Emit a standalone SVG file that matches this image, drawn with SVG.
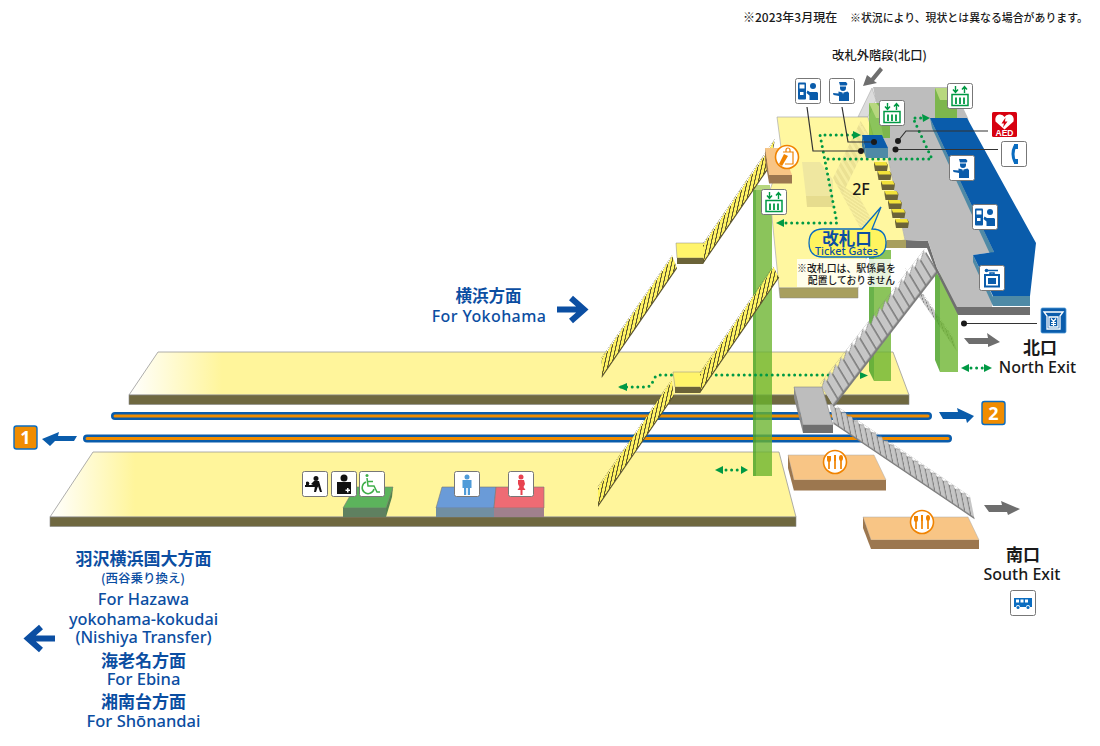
<svg xmlns="http://www.w3.org/2000/svg" width="1100" height="746" viewBox="0 0 1100 746">
<style>
text{font-family:"Noto Sans","Noto Sans CJK JP",sans-serif;text-anchor:middle;font-weight:500}
.j{font-family:"Noto Sans CJK JP",sans-serif}
.b{fill:#0b4ea2}
text.bold{font-weight:700}
.k{fill:#1a1a1a}
.dot{fill:none;stroke:#009944;stroke-width:3;stroke-linecap:round;stroke-dasharray:0 5.6}
.tri{fill:#009944}
.lead{fill:none;stroke:#333;stroke-width:1.2}
.pin{fill:#1a1a1a}
.side{fill:#6f6840;stroke:#888;stroke-width:.6}
.frame{fill:#fff;stroke:#777;stroke-width:1}
.col{fill:#6ab42d;fill-opacity:.78}
.colf{fill:#4fa52a;fill-opacity:.85}
.cap{fill:#b7d77e}
.trk1{fill:none;stroke:#0a5cab;stroke-width:8;stroke-linecap:round}
.trk2{fill:none;stroke:#f08c00;stroke-width:3;stroke-linecap:round}
.gar{fill:#6e6e6e}
</style>
<defs>
<linearGradient id="gu" gradientUnits="userSpaceOnUse" x1="129" y1="0" x2="222" y2="0"><stop offset="0" stop-color="#fff"/><stop offset="1" stop-color="#fff59b"/></linearGradient>
<linearGradient id="gl" gradientUnits="userSpaceOnUse" x1="50" y1="0" x2="135" y2="0"><stop offset="0" stop-color="#fff"/><stop offset="1" stop-color="#fff59b"/></linearGradient>
<pattern id="sy" patternUnits="userSpaceOnUse" width="10" height="100">
<polygon points="0,3 8,0 8,4 10,3 10,100 0,100" fill="#5f5830"/>
<polygon points="1,3 8,.5 8,27 1,27" fill="#fff362"/>
</pattern>
<pattern id="sg" patternUnits="userSpaceOnUse" width="10" height="100">
<polygon points="0,3 8,0 8,3 10,3 10,100 0,100" fill="#7d7d7d"/>
<polygon points="0,3.500 7,1 7,21 0,21" fill="#c6c6c6"/>
<polygon points="7,1 8,.6 8,21 7,21" fill="#e2e2e2"/>
</pattern>
<pattern id="sf" patternUnits="userSpaceOnUse" width="10" height="100">
<polygon points="0,0 6,0 6,100 0,100" fill="#e6dc90"/>
<polygon points="6,0 10,0 10,100 6,100" fill="#f3eaa0"/>
</pattern>
<g id="i-frame"><rect class="frame" x=".5" y=".5" width="25" height="25" rx="2"/></g>
<g id="i-staff"><use href="#i-frame"/><path fill="#0a5cab" d="M10,4h7l1.500,2-1,1.500h-6.500zM11,8.500h6v1.500a3,3 0 0 1-6,0zM9.500,13.500l4,1 .5,2 .5-2 4-1 1.500,1.500v8h-10v-5l-5.500-1-.5-2 5.500,.5z"/></g>
<g id="i-ticket"><use href="#i-frame"/><rect x="3" y="4.500" width="8" height="17" rx="1" fill="#0a5cab"/><rect x="4.500" y="6.500" width="5" height="4" fill="#fff"/><rect x="5" y="14" width="3.500" height="3" fill="#fff"/><circle cx="18" cy="8" r="3" fill="#0a5cab"/><path fill="#0a5cab" d="M12.500,12.500l2.500,1.500h7l1,1v7h-8.500v-4.500l-3-2.500z"/></g>
<g id="i-lift"><use href="#i-frame"/><path fill="none" stroke="#009944" stroke-width="1.400" d="M8.500,3v6M6,6.500l2.500,3 2.500-3M17.500,10V4M15,6.500l2.500-3 2.500,3"/><rect x="5" y="11.500" width="16" height="11" fill="none" stroke="#009944" stroke-width="1.500"/><path fill="none" stroke="#009944" stroke-width="1.800" d="M9,14.500v6.500M13,14.500v6.500M17,14.500v6.500"/></g>
<g id="i-rest"><circle r="11.500" fill="#fff" stroke="#f08300" stroke-width="1.600"/><path fill="none" stroke="#f08300" stroke-width="1.700" d="M-6,-2v9M0,-6v13M6,-2v9"/><path fill="#f08300" d="M-8,-6h4v4a2,2 0 0 1-4,0zM-1,-7h2v6h-2zM6,-7a2,3 0 0 1 0,6a2,3 0 0 1 0-6z"/></g>
<g id="gate"><polygon points="0,0 12,0 14,3 13,9 1,9 0,3" fill="#6b6338"/><polygon points="0,0 12,0 13.500,3.500 1.500,3.500" fill="#f2e23a"/></g>
</defs>

<rect width="1100" height="746" fill="#fff"/>

<g id="platform-upper"><polygon points="158,352 893,352 909,395 129,395" fill="url(#gu)" stroke="#999" stroke-width=".8"/><rect class="side" x="129" y="395" width="780" height="9.500"/></g>
<g id="tracks"><path class="trk1" d="M115,416H928M87,438.500H948"/><path class="trk2" d="M115,416H928M87,438.500H948"/></g>
<g id="platform-lower"><polygon points="93,452 779,452 796,517 50,517" fill="url(#gl)" stroke="#999" stroke-width=".8"/><rect class="side" x="50" y="517" width="746" height="9.500"/></g>

<g id="track-1"><path fill="#0a5cab" d="M42,439L59,432L58,436L77,436L74,441L55,441L50,446Z"/><rect x="14" y="426" width="23" height="23" rx="2.500" fill="#f08c00" stroke="#0a6cc0" stroke-width="1.400"/><text x="25.500" y="444" fill="#fff" font-size="18" class="bold">1</text></g>
<g id="track-2"><path fill="#0a5cab" d="M939,412L958,412L957,408L974,416L967,423L966,419L943,419Z"/><rect x="982" y="401.500" width="23" height="23" rx="2.500" fill="#f08c00" stroke="#0a6cc0" stroke-width="1.400"/><text x="993.500" y="419.500" fill="#fff" font-size="18" class="bold">2</text></g>

<g id="toilets">
<polygon points="355,487 393,487 386,508 343,508" fill="#5cb35c" stroke="#777" stroke-width=".6"/><polygon points="393,487 392,497 386,517 386,508" fill="#55824f"/><rect x="343" y="508" width="43" height="9" fill="#5f8060"/>
<polygon points="442,487 496,487 494,508 436,508" fill="#6a9bd8" stroke="#777" stroke-width=".6"/><rect x="436" y="508" width="58" height="9" fill="#718fa2"/>
<polygon points="496,487 544,487 544,508 494,508" fill="#ee6b74" stroke="#777" stroke-width=".6"/><rect x="494" y="508" width="50" height="9" fill="#a0808c"/>
</g>
<g id="icon-nursing" transform="translate(302,471)"><use href="#i-frame"/><path fill="#111" d="M3,14h13v2h-13zM14,5a2.500,2.500 0 1 1 0,5a2.500,2.500 0 0 1 0-5zM12,10h5l3,11h-2l-2-6-2,6h-2l1-6-4-2zM4,11a2,2 0 1 1 0,3z"/></g>
<g id="icon-multi" transform="translate(331,471)"><use href="#i-frame"/><circle cx="13" cy="7" r="3.500" fill="#111"/><path fill="#111" d="M6,11h14v12h-14z"/><path fill="#fff" d="M16,17h1.500v1.500h1.500v1.500h-1.500v1.500h-1.500v-1.500h-1.500v-1.500h1.500z"/></g>
<g id="icon-wheelchair" transform="translate(359,471)"><use href="#i-frame"/><circle cx="8" cy="4.500" r="1.500" fill="#3fae49"/><path fill="none" stroke="#3fae49" stroke-width="1.500" d="M8,7l1,8h6l3,6h3M9,10.500h5M7,11a6,6 0 1 0 8,7"/></g>
<g id="icon-male" transform="translate(454,471)"><use href="#i-frame"/><circle cx="13" cy="6" r="2.500" fill="#4f9bd8"/><path fill="#4f9bd8" d="M8.500,9h9v8h-1.500v7h-2.200v-7h-1.600v7h-2.200v-7h-1.500z"/></g>
<g id="icon-female" transform="translate(508,471)"><use href="#i-frame"/><circle cx="13" cy="6" r="2.500" fill="#e8424f"/><path fill="#e8424f" d="M10,9h6l1,4-1.500,3 2,3h-3v5h-2v-5h-3l2-3-1.500-3z"/></g>

<g id="restaurant-a"><polygon points="788,455 874,455 886,480 794,480" fill="#f8c585" stroke="#aaa" stroke-width=".5"/><polygon points="788,455 794,480 794,491 788,468" fill="#9c774f"/><rect x="794" y="480" width="92" height="10.500" fill="#9c774f"/><use href="#i-rest" x="835" y="462"/></g>
<g id="restaurant-b"><polygon points="863,517 968,517 979,540 871,540" fill="#f8c585" stroke="#aaa" stroke-width=".5"/><polygon points="863,517 871,540 871,549 863,528" fill="#9c774f"/><rect x="871" y="540" width="108" height="9" fill="#9c774f"/><use href="#i-rest" x="922" y="522"/></g>

<g id="stairs-south"><polygon transform="matrix(.6,.405,.2,1,829,401)" points="0,0 235,0 235,23 0,23" fill="url(#sg)"/></g>

<g id="stair-rear"><polygon transform="matrix(.5,.72,.3,1,905,268)" points="0,0 95,0 95,15 0,15" fill="url(#sg)"/></g>

<g id="columns-lower">
<polygon class="colf" points="869,250 874,250 874,381 869,371"/><rect class="col" x="874" y="250" width="17" height="131"/>
<polygon class="colf" points="935,270 940,278 940,372 935,360"/><rect class="col" x="940" y="272" width="18" height="100"/>
<rect class="colf" x="753" y="189" width="3" height="287"/><rect class="col" x="756" y="189" width="16" height="287"/>
<rect class="cap" x="753" y="185" width="17" height="5"/>
</g>

<g id="stair-1"><polygon transform="matrix(.55,-.8,-.22,1,608.300,348)" points="-12,0 116,0 137,30 0,30" fill="url(#sy)"/></g>
<g id="stair-4"><polygon transform="matrix(.55,-.8,-.22,1,604.600,477)" points="-12,0 122,0 138,30 0,30" fill="url(#sy)"/></g>
<g id="landing-upper"><polygon points="676,243 705,243 706,258 677,258" fill="#fff46b" stroke="#888" stroke-width=".5"/><polygon points="677,258 706,258 703,264 677,264" fill="#6b6338"/></g>

<g id="dots-platform"><path class="dot" d="M621,387H646Q651,387 653,381Q655,375 660,375H860"/><polygon class="tri" points="618,387 627,383 627,391"/><polygon class="tri" points="860,372 868,375.500 860,379"/><path class="dot" d="M726,470H740"/><polygon class="tri" points="715,470 723,466 723,474"/><polygon class="tri" points="748,470 741,466 741,474"/></g>
<g id="landing-lower"><polygon points="673,372 703,372 704,387 675,387" fill="#fff46b" stroke="#888" stroke-width=".5"/><polygon points="675,387 704,387 700,393 675,393" fill="#6b6338"/></g>

<g id="stairs-north"><polygon transform="matrix(.55,-.71,.6,1,820,384)" points="0,0 190,0 190,23 0,23" fill="url(#sg)"/></g>
<g id="landing-grey"><polygon points="794,387 822,387 833,425 803,425" fill="#bdbdbd" stroke="#888" stroke-width=".6"/><polygon points="794,387 803,425 803,433 794,398" fill="#8a8a8a"/><rect x="803" y="425" width="30" height="8" fill="#6f6f6f"/></g>

<g id="concourse">
<polygon points="906,240 928,241 937,268 958,307 1030,307 1030,315 958,315 937,273 927,248 906,248" fill="#6f6f6f"/>
<polygon points="873,87 953,87 968,118 994,252 973,255 993,297 992,307 957,307 937,268 928,241 905,240 888,158" fill="#bdbdbd"/>
<polygon points="858,117 872,88 876,100 868,117" fill="#dcdcdc" stroke="#aaa" stroke-width=".6"/>
</g>
<g id="floor-2f">
<polygon points="777,117 868,117 873,135 888,158 905,240 870,245 858,288 779,288 772,217 770,190 782,155" fill="#fff7a0" stroke="#aaa" stroke-width=".7"/>
<polygon points="887,240 906,240 906,248 882,248" fill="#a89f5f"/>
<polygon points="779,288 858,288 858,298 780,298" fill="#a89f5f" stroke="#888" stroke-width=".5"/>
<polygon transform="matrix(.3,-.62,.6,1,833,178)" fill="url(#sf)" points="0,0 92,0 92,16 0,16" opacity=".8"/>
<polygon transform="matrix(.3,.55,.9,.6,834,180)" fill="url(#sf)" points="0,0 90,0 90,28 0,28" opacity=".7"/>
<polygon points="802,162 820,162 833,180 833,196 806,196" fill="#efe7a0"/><polygon points="806,196 833,196 833,207 807,207" fill="#e6dc8e"/>
</g>
<g id="stubs"><rect class="col" x="869" y="103" width="21" height="35"/><polygon class="cap" points="869,103 876,103 890,118 876,118"/><rect class="col" x="935" y="88" width="22" height="35"/><polygon class="cap" points="935,88 950,88 956,100 940,100"/></g>
<g id="stair-2"><polygon transform="matrix(.55,-.8,-.22,1,709.600,234)" points="-12,0 119,0 122,30 0,30" fill="url(#sy)"/></g>
<g id="stair-3"><polygon transform="matrix(.55,-.8,-.22,1,706.600,363)" points="-12,0 121,0 144,30 0,30" fill="url(#sy)"/></g>
<g id="shop-box"><polygon points="765,148 782,148 792,175 769,175" fill="#f8c585"/><polygon points="765,148 769,175 769,183 765,160" fill="#9c774f"/><rect x="769" y="175" width="23" height="8.500" fill="#9c774f"/></g>
<g id="roof">
<polygon points="930,118 994,252 990,254 932,128" fill="#4f8aa6"/>
<polygon points="973,255 993,297 993,306 973,262" fill="#4f8aa6"/>
<rect x="993" y="296" width="37" height="10" fill="#4f8aa6"/>
<polygon points="930,118 967,118 1036,243 1030,296 993,296 973,255 994,252" fill="#0a5cab"/>
</g>
<g id="dots-2f"><path class="dot" d="M853,135H820L837,223H786"/><polygon class="tri" points="853,131 861,135 853,139"/><polygon class="tri" points="776,223 784,219 784,227"/><path class="dot" d="M828,159H932L913,118H922"/><polygon class="tri" points="922,114 930,118 923,122"/></g>
<g id="gates"><use href="#gate" x="874" y="162"/><use href="#gate" x="877.500" y="171"/><use href="#gate" x="881" y="181"/><use href="#gate" x="884.500" y="191"/><use href="#gate" x="888" y="200"/><use href="#gate" x="891.500" y="209"/><use href="#gate" x="895" y="219"/></g>
<g id="gate-box"><polygon points="862,135 882,135 888,148 865,148" fill="#0a5cab"/><polygon points="865,148 888,148 888,158 866,158" fill="#4f8aa6"/><polygon points="862,135 865,148 866,158 862,146" fill="#3f7a96"/></g>

<g id="leaders">
<path class="lead" d="M807,107L813,151H861"/><circle class="pin" cx="861" cy="151" r="3"/>
<path class="lead" d="M842,107L848,142H874"/><circle class="pin" cx="874" cy="142" r="3"/>
<path class="lead" d="M898,141L906,131H988"/><circle class="pin" cx="898" cy="141" r="3"/>
<path class="lead" d="M895.500,149.500H998"/><circle class="pin" cx="895.500" cy="149.500" r="3"/>
<path class="lead" d="M964,323.500H1037"/><circle class="pin" cx="964" cy="323.500" r="3"/>
</g>

<use id="icon-ticket-1" href="#i-ticket" x="795" y="78"/>
<use id="icon-staff-1" href="#i-staff" x="829" y="78"/>
<use id="icon-lift-1" href="#i-lift" x="879" y="100"/>
<use id="icon-lift-2" href="#i-lift" x="947" y="83"/>
<use id="icon-lift-3" href="#i-lift" x="761" y="189"/>
<use id="icon-staff-2" href="#i-staff" x="949" y="155"/>
<use id="icon-ticket-2" href="#i-ticket" x="972" y="204"/>
<g id="icon-locker" transform="translate(979,265)"><use href="#i-frame"/><rect x="6" y="10" width="14" height="11.500" fill="none" stroke="#0a5cab" stroke-width="2"/><rect x="9" y="13" width="8" height="6" fill="#0a5cab"/><path stroke="#0a5cab" stroke-width="1.500" fill="none" d="M9,5.500h10M11,10V8h4v2"/><circle cx="7.500" cy="5.500" r="1.800" fill="#0a5cab"/></g>
<g id="icon-aed" transform="translate(992,112)"><rect width="25" height="25" rx="1.500" fill="#d7000f"/><path fill="#fff" d="M12.500,17.500L3.500,9.500Q2.500,3.500 7,2.500Q11,2 12.500,5Q14,2 18,2.500Q22.500,3.500 21.500,9.500Z"/><path fill="#d7000f" d="M13.500,5.500L9.500,11.500H12L11,15.500L15.500,9.500H13Z"/><text x="12.500" y="24" font-size="8.500" class="bold" fill="#fff" style="font-family:'Liberation Sans',sans-serif">AED</text></g>
<g id="icon-phone" transform="translate(1001,141)"><use href="#i-frame"/><path fill="none" stroke="#0a6cc0" stroke-width="3" d="M14,5Q10,13 14,21"/><path fill="#0a6cc0" d="M13,3h4v5h-4zM13,18h4v5h-4z"/></g>
<g id="icon-atm" transform="translate(1041,308)"><rect width="25" height="25" rx="1.500" fill="#0a5cab" stroke="#4f9bd8" stroke-width=".8"/><path fill="none" stroke="#fff" stroke-width="1.300" d="M3,4H22L19,8V21H6V8ZM8,9H17V19H8Z"/><path fill="none" stroke="#fff" stroke-width="1.200" d="M10,10.500l2.500,3 2.500-3M12.500,13.500V18M10,14.500H15M10,16.500H15"/></g>
<g id="icon-bus" transform="translate(1010,590)"><use href="#i-frame"/><path fill="#0a6cc0" d="M4,8h18v9h-2a2,2 0 0 0-4,0h-6a2,2 0 0 0-4,0h-2z"/><path fill="#fff" d="M6,9.500h3v3h-3zM10.500,9.500h3v3h-3zM15,9.500h3v3h-3z"/><circle cx="8" cy="17.500" r="1.500" fill="#0a6cc0"/><circle cx="18" cy="17.500" r="1.500" fill="#0a6cc0"/></g>
<g id="icon-shop" transform="translate(787,157)"><circle r="11.500" fill="#fff" stroke="#f08300" stroke-width="1.600"/><path fill="none" stroke="#f08300" stroke-width="1.200" d="M-4,-5H6V7H-2M-1,-5v-2a2,2 0 0 1 4,0v2"/><path fill="#f08300" d="M-8,7L-3,-3L1,-1L-2,4L-5,9Z"/></g>

<g id="exit-arrows"><polygon class="gar" points="964,338 988,338 987,333 1000,342 988,347 988,344 969,344"/><polygon class="gar" points="984,505 1002,505 1001,501 1020,509 1008,515 1007,512 989,512"/><polygon class="gar" points="863,86 867,75 871,78 880,67 883,70 874,81 877,83"/></g>
<g id="dots-north"><path class="dot" d="M971,368H983"/><polygon class="tri" points="961,368 969,364 969,372"/><polygon class="tri" points="992,368 984,364 984,372"/></g>

<g id="bubble"><path d="M823,229H862L881,207L872,229Q886,229 886,243Q886,257 872,257H823Q809,257 809,243Q809,229 823,229Z" fill="#fff45f" stroke="#0a6cc0" stroke-width="1.300"/><text class="j b bold" x="847" y="244.500" font-size="16.500">改札口</text><text class="b" x="846.500" y="254.500" font-size="10.800" style="font-family:'Noto Sans',sans-serif">Ticket Gates</text></g>
<g id="note"><rect x="797" y="259" width="101" height="28" fill="#fff" fill-opacity=".8"/><text class="j k" x="846.500" y="271.500" font-size="9.900">※改札口は、駅係員を</text><text class="j k" x="851.500" y="284" font-size="9.800">配置しておりません</text></g>

<g id="labels">
<text class="j k" x="743" y="22" font-size="12" style="text-anchor:start">※2023年3月現在</text>
<text class="j k" x="850" y="22" font-size="10.900" style="text-anchor:start">※状況により、現状とは異なる場合があります。</text>
<text class="j k" x="879.500" y="60" font-size="12.300">改札外階段(北口)</text>
<text class="k" x="861" y="195" font-size="16">2F</text>
<text class="j k bold" x="1040" y="354" font-size="17">北口</text>
<text class="k" x="1037.500" y="373" font-size="16">North Exit</text>
<text class="j k bold" x="1023" y="561" font-size="17">南口</text>
<text class="k" x="1022" y="580" font-size="16">South Exit</text>
<text class="j b bold" x="488.500" y="302" font-size="16.500">横浜方面</text>
<text class="b" x="489" y="322" font-size="16" letter-spacing=".4">For Yokohama</text>
<text class="j b bold" x="143.500" y="565" font-size="17">羽沢横浜国大方面</text>
<text class="j b" x="143" y="583" font-size="12.500">(西谷乗り換え)</text>
<text class="b" x="143.500" y="605" font-size="16.400">For Hazawa</text>
<text class="b" x="143.500" y="625" font-size="16.300">yokohama-kokudai</text>
<text class="b" x="143.500" y="643" font-size="16.300">(Nishiya Transfer)</text>
<text class="j b bold" x="143.500" y="667" font-size="17">海老名方面</text>
<text class="b" x="143.500" y="685" font-size="16.500">For Ebina</text>
<text class="j b bold" x="143.500" y="708" font-size="17">湘南台方面</text>
<text class="b" x="143.500" y="727" font-size="16.500">For Shōnandai</text>
</g>
<g id="direction-arrows" fill="none" stroke="#0b4ea2" stroke-width="6"><path d="M557,309.500H582M571,298L584,309.500L571,321"/><path d="M55,638.500H30M41,627L28,638.500L41,650"/></g>
</svg>
